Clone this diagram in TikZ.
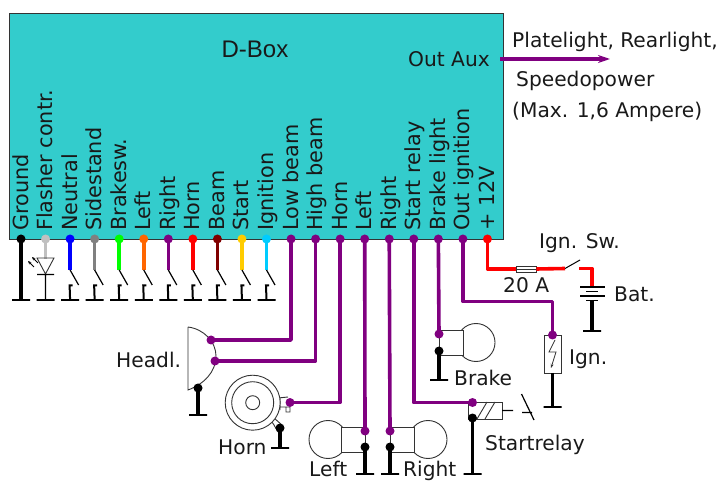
\documentclass[tikz,border=0pt]{standalone}
\usepackage{fontspec}
\setmainfont{DejaVu Sans}
\newfontfamily\boxfont{Liberation Sans}
\usepackage{xcolor}
\definecolor{boxcyan}{HTML}{33CCCC}
\definecolor{wirepurple}{HTML}{800080}
\definecolor{wireorange}{HTML}{FF6600}
\definecolor{wiregold}{HTML}{FFCC00}
\definecolor{wiresky}{HTML}{00CCFF}
\definecolor{wiremaroon}{HTML}{800000}
\definecolor{wiresilver}{HTML}{C0C0C0}
\definecolor{inkgray}{HTML}{333333}
\usetikzlibrary{positioning,arrows.meta,calc}

\begin{document}
\begin{tikzpicture}
		[x=1pt,y=-1pt,
		every node/.style={inner sep=0pt,font=\fontsize{20.2}{24}\selectfont,text=black!90},
		dot/.style={circle,fill=#1,minimum size=9pt},
		dot/.default=black,
		wire/.style={draw=#1,line width=3.6pt,line join=round},
		wire/.default=wirepurple,
		stem/.style={draw=black,line width=3.4pt},
		thin line/.style={draw=inkgray,line width=.9pt},
		gndbar/.style={draw=black,fill=black,minimum width=18pt,minimum height=0pt,line width=1.3pt},
		pinlabel/.style={rotate=90,anchor=base west,font=\fontsize{20.8}{24}\selectfont}]
		\useasboundingbox (0,0) rectangle (721,481);
		\node[draw=inkgray,fill=boxcyan,line width=.8pt,minimum width=494pt,minimum height=226pt,anchor=north west] (dbox) at (9,13) {};
		\node[font=\boxfont\fontsize{24}{28}\selectfont] (dboxlabel) at (255,49) {D-Box};
		% pins along the lower edge
		\foreach \n/\c/\t [count=\i from 0] in {ground/black/Ground,flasher/wiresilver/Flasher contr.,neutral/blue/Neutral,sidestand/gray/Sidestand,brakesw/green/Brakesw.,turnleft/wireorange/Left,turnright/wirepurple/Right,hornin/red/Horn,beam/wiremaroon/Beam,start/wiregold/Start,ignition/wiresky/Ignition,lowbeam/wirepurple/Low beam,highbeam/wirepurple/High beam,hornout/wirepurple/Horn,leftout/wirepurple/Left,rightout/wirepurple/Right,startrelay/wirepurple/Start relay,brakelight/wirepurple/Brake light,outign/wirepurple/Out ignition,plus/red/+ 12V}{
			\node[dot=\c] (pin\n) at ({21+24.55*\i},239) {};
			\node[pinlabel] (label\n) at ({28+24.55*\i},231) {\t};
		}
		% switches to ground
		\foreach \n/\c in {neutral/blue,sidestand/gray,brakesw/green,turnleft/wireorange,turnright/wirepurple,hornin/red,beam/wiremaroon,start/wiregold,ignition/wiresky}{
			\coordinate (sw\n) at ($(pin\n)+(0,31)$);
			\coordinate (swend\n) at ($(pin\n)+(8.5,46)$);
			\node[gndbar] (gnd\n) at ($(pin\n)+(0,61)$) {};
			\draw[wire=\c] (pin\n.center) -- (sw\n);
			\draw[draw=black,line width=1.2pt] (sw\n) -- (swend\n);
			\draw[draw=black,line width=2pt] (gnd\n) -- ++(-.5,-14.5) -- ++(3,0);
		}
		\node[gndbar] (gndground) at ($(pinground)+(0,61)$) {};
		\draw[stem] (pinground.center) -- (gndground);
		% flasher lamp
		\node[gndbar] (gndflasher) at ($(pinflasher)+(0,61)$) {};
		\coordinate (ledtop) at ($(pinflasher)+(0,18)$);
		\draw[wire=wiresilver] (pinflasher.center) -- ($(ledtop)+(0,2)$);
		\draw[thin line] (37,258) -- (54,258) -- (45.5,274) -- cycle;
		\draw[draw=black,line width=1.2pt] (37,274.5) -- (54,274.5) (45.5,274.5) -- (gndflasher);
		\draw[draw=black,line width=.8pt,-{Stealth[length=3.5pt,width=3pt]}] (38,263) -- (32,257);
		\draw[draw=black,line width=.8pt,-{Stealth[length=3.5pt,width=3pt]}] (34,267) -- (28,261);
		% headlight
		\draw[thin line] (188,327) -- (188,390) .. controls (204,384) and (216,372) .. (216,356) .. controls (216,342) and (204,329) .. (188,327);
		\node[dot=wirepurple] (headlow) at (211,340) {};
		\node[dot=wirepurple] (headhigh) at (215,361) {};
		\node[dot] (headgnd) at (198,388) {};
		\node[gndbar] (gndhead) at (198,415) {};
		\draw[wire] (pinlowbeam.center) |- (headlow.center);
		\draw[wire] (pinhighbeam.center) |- (headhigh.center);
		\draw[stem] (headgnd.center) -- (gndhead);
		\node[anchor=base west] (headlabel) at (116,367) {Headl.};
		% horn
		\draw[thin line] (280,398) -- (280,410) (278,398) -- (288,397) (278,407) -- (290,407) -- (290,412) -- (286,412) -- (286,407);
		\draw[thin line] (270,419) -- (274,425) -- (278,432) (274,418) -- (282,425);
		\draw[thin line,fill=white] (252.7,402.7) circle (27.5);
		\draw[thin line] (252.7,402.7) circle (21);
		\draw[thin line] (252.7,402.7) circle (7);
		\node[dot=wirepurple] (hornplus) at (290,402.5) {};
		\node[dot] (horngnd) at (280,428) {};
		\node[gndbar] (gndhorn) at (280,448) {};
		\draw[wire] (pinhornout.center) |- (hornplus.center);
		\draw[stem] (horngnd.center) -- (gndhorn);
		\node[anchor=base west] (hornlabel) at (218,454) {Horn};
		% bulbs
		\foreach \xa/\xb/\xc/\ya/\yb in {365/341/328/427/452,390/414/428/427/452,439/463/476/330/355}{
			\draw[thin line] (\xc,{(\ya+\yb)/2}) circle (19);
			\draw[thin line,fill=white] (\xa,\ya) rectangle (\xb,\yb);
		}
		\node[dot=wirepurple] (leftplus) at (365,431) {};
		\node[dot] (leftgnd) at (365,447) {};
		\node[gndbar] (gndleft) at (365,474) {};
		\draw[wire] (pinleftout.center) -- (leftplus.center);
		\draw[stem] (leftgnd.center) -- (gndleft);
		\node[anchor=base west] (leftlabel) at (309,476) {Left};
		\node[dot=wirepurple] (rightplus) at (390,431) {};
		\node[dot] (rightgnd) at (390,447) {};
		\node[gndbar] (gndright) at (390,474) {};
		\draw[wire] (pinrightout.center) -- (rightplus.center);
		\draw[stem] (rightgnd.center) -- (gndright);
		\node[anchor=base west] (rightlabel) at (403,476) {Right};
		\node[dot=wirepurple] (brakeplus) at (439,334) {};
		\node[dot] (brakegnd) at (439,351) {};
		\node[gndbar] (gndbrake) at (439,380) {};
		\draw[wire] (pinbrakelight.center) -- (brakeplus.center);
		\draw[stem] (brakegnd.center) -- (gndbrake);
		\node[anchor=base west] (brakelabel) at (454,385) {Brake};
		% start relay
		\draw[thin line] (468,402) rectangle (502,419);
		\draw[thin line] (477,419) -- (487,402) (485,419) -- (495,402);
		\node[dot=wirepurple] (relayplus) at (472.5,402.5) {};
		\node[dot] (relaygnd) at (472.5,418) {};
		\node[gndbar] (gndrelay) at (472.5,474) {};
		\draw[wire] (pinstartrelay.center) |- (relayplus.center);
		\draw[stem] (relaygnd.center) -- (gndrelay);
		\draw[draw=black,line width=1.2pt] (502,410.5) -- (513,410.5) (521.5,394) -- (534,420) (522,412.5) -- (532,412.5);
		\node[anchor=base west] (relaylabel) at (485,450) {Startrelay};
		% ignition coil
		\draw[thin line] (544,335) rectangle (561,373);
		\draw[draw=inkgray,line width=.8pt,-{Stealth[length=4pt,width=3pt]}] (555,340) -- (549,352) -- (556,352) -- (551,368);
		\node[dot=wirepurple] (ignplus) at (552.5,335) {};
		\coordinate (ignlow) at (552.5,373);
		\node[gndbar] (gndign) at (552.5,407) {};
		\draw[wire] (pinoutign.center) -- ++(0,62.5) -| (ignplus.center);
		\draw[stem] (ignlow) -- (gndign);
		\node[anchor=base west] (ignlabel) at (569,365) {Ign.};
		% supply
		\node[draw=inkgray,fill=white,line width=.8pt,minimum width=20pt,minimum height=6pt] (fuse) at (526,269) {};
		\draw[thin line] (fuse.west) -- (fuse.east);
		\coordinate (swleft) at (565,268.5);
		\coordinate (swright) at (579,268.5);
		\coordinate (battop) at (592,287);
		\draw[wire=red] (pinplus.center) |- (fuse.west);
		\draw[wire=red] (fuse.east) -- (swleft);
		\draw[wire=red] (swright) -- (592,268.5) -- (battop);
		\draw[draw=black,line width=1pt] (swleft) -- (580,260);
		\draw[draw=black,line width=1.2pt] (580,287) -- (605,287) (586,291.5) -- (598,291.5) (580,296) -- (605,296) (586,300.5) -- (598,300.5);
		\node[gndbar] (gndbat) at (592,331) {};
		\draw[stem] (592,300.5) -- (gndbat);
		\node[anchor=base west] (swlabel) at (539,249) {Ign. Sw.};
		\node[anchor=base west] (fuselabel) at (503,293) {20 A};
		\node[anchor=base west] (batlabel) at (614,302) {Bat.};
		% outputs
		\node[anchor=base east] (auxlabel) at (490,67) {Out Aux};
		\coordinate (auxend) at (610,59);
		\draw[wire,-{Stealth[length=12pt,width=8pt]}] (500,59) -- (auxend);
		\node[anchor=base west] (platelabel) at (512,48) {Platelight, Rearlight,};
		\node[anchor=base west] (speedlabel) at (516,87) {Speedopower};
		\node[anchor=base west] (maxlabel) at (512,118) {(Max. 1,6 Ampere)};
	\end{tikzpicture}
\end{document}
